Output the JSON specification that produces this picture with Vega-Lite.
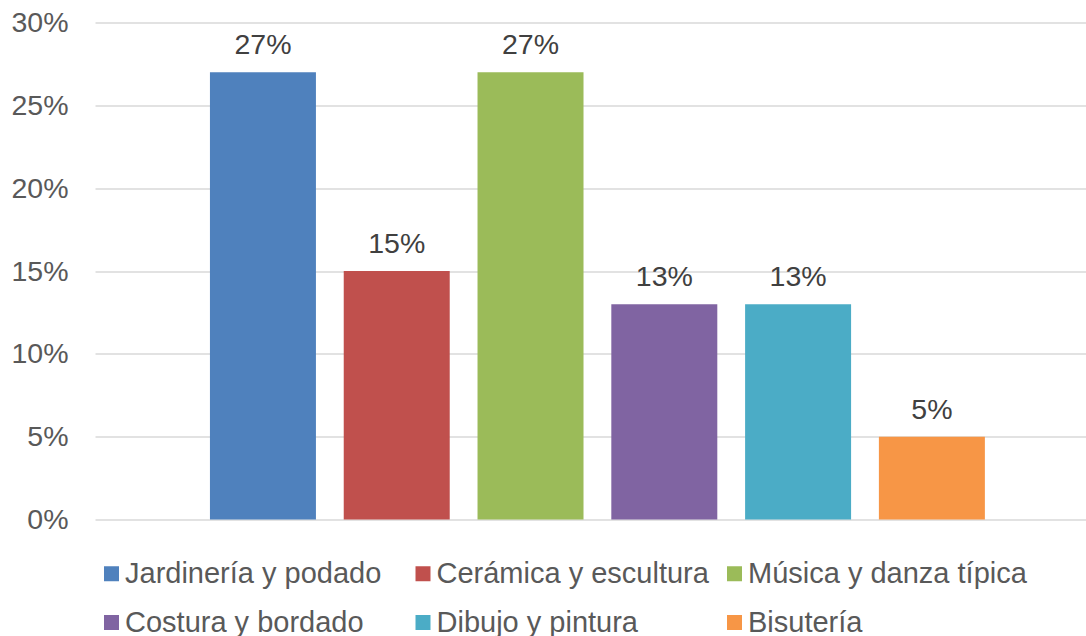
{
  "$schema": "https://vega.github.io/schema/vega-lite/v6.json",
  "width": 991,
  "height": 497,
  "autosize": {"type": "none"},
  "padding": {"left": 95, "top": 22.5, "right": 0, "bottom": 116.5},
  "background": "white",
  "config": {"view": {"stroke": null}, "font": "Liberation Sans"},
  "data": {
    "values": [
      {"actividad": "Jardinería y podado", "porcentaje": 0.27},
      {"actividad": "Cerámica y escultura", "porcentaje": 0.15},
      {"actividad": "Música y danza típica", "porcentaje": 0.27},
      {"actividad": "Costura y bordado", "porcentaje": 0.13},
      {"actividad": "Dibujo y pintura", "porcentaje": 0.13},
      {"actividad": "Bisutería", "porcentaje": 0.05}
    ]
  },
  "encoding": {
    "x": {
      "field": "actividad",
      "type": "nominal",
      "sort": null,
      "axis": null,
      "scale": {"paddingInner": 0.2078, "paddingOuter": 0.8075, "align": 0.532, "round": false}
    },
    "y": {
      "field": "porcentaje",
      "type": "quantitative",
      "scale": {"domain": [0, 0.3], "nice": false, "zero": true},
      "axis": {
        "title": null,
        "format": ".0%",
        "values": [0, 0.05, 0.1, 0.15, 0.2, 0.25, 0.3],
        "domain": false,
        "ticks": false,
        "labelPadding": 27,
        "labelFontSize": 28.5,
        "labelFont": "Liberation Sans",
        "labelColor": "#595959",
        "gridColor": "#D9D9D9",
        "gridWidth": 1.5
      }
    }
  },
  "layer": [
    {
      "mark": {"type": "bar"},
      "encoding": {
        "color": {
          "field": "actividad",
          "type": "nominal",
          "scale": {
            "domain": ["Jardinería y podado", "Costura y bordado", "Cerámica y escultura", "Dibujo y pintura", "Música y danza típica", "Bisutería"],
            "range": ["#4F81BD", "#8064A2", "#C0504D", "#4BACC6", "#9BBB59", "#F79646"]
          },
          "legend": {
            "title": null,
            "orient": "none",
            "legendX": 2,
            "legendY": 536.5,
            "columns": 3,
            "gridAlign": "all",
            "columnPadding": 4.5,
            "rowPadding": 19,
            "symbolType": "square",
            "symbolSize": 225,
            "symbolStrokeWidth": 0,
            "labelFontSize": 29,
            "labelFont": "Liberation Sans",
            "labelColor": "#595959",
            "labelOffset": -1,
            "labelLimit": 500,
            "padding": 0
          }
        }
      }
    },
    {
      "mark": {"type": "text", "baseline": "alphabetic", "dy": -18, "fontSize": 28.5, "font": "Liberation Sans", "color": "#404040"},
      "encoding": {"text": {"field": "porcentaje", "type": "quantitative", "format": ".0%"}}
    }
  ]
}
